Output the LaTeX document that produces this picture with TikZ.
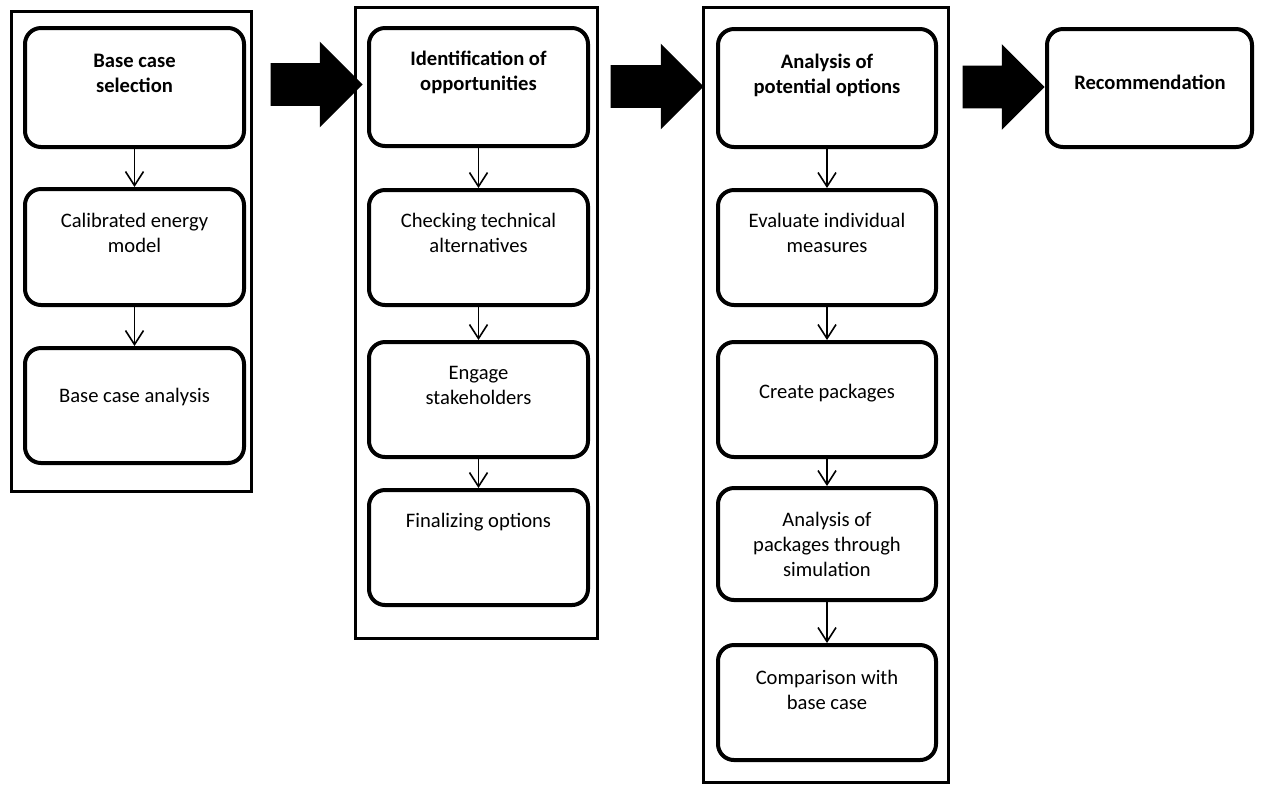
\documentclass[tikz,border=0pt]{standalone}
\usepackage{fontspec}
\setmainfont{Carlito}
\usetikzlibrary{arrows.meta,shapes.arrows}

\begin{document}
\begin{tikzpicture}[x=0.5pt,y=-0.5pt,
  colframe/.style={draw=black, line width=1.5pt, inner sep=0pt},
  stepbox/.style={draw=black, fill=white, line width=2pt, rounded corners=8pt,
    minimum width=109.5pt, minimum height=57.5pt, inner sep=0pt},
  steptext/.style={align=center, font=\fontsize{10.3}{12.5}\selectfont, text=black, inner sep=0pt},
  steptitle/.style={steptext, font=\fontsize{10.3}{12.5}\selectfont\bfseries},
  flow/.style={draw=black, line width=0.8pt,
    -{Straight Barb[length=7pt,width=9pt,line width=0.8pt]}},
  bigarrow/.style={single arrow, fill=black, draw=none, inner sep=0pt,
    inner ysep=10.5pt, minimum width=42.5pt, single arrow head extend=10.75pt,
    single arrow tip angle=90}
]
\useasboundingbox (0,0) rectangle (1264,784);

% column frames
\node[colframe, minimum width=120pt, minimum height=240pt] (f1) at (131,251) {};
\node[colframe, minimum width=121pt, minimum height=315.5pt] (f2) at (476,322.5) {};
\node[colframe, minimum width=122.5pt, minimum height=387.5pt] (f3) at (825.5,394.5) {};

% column 1: base case
\node[stepbox, minimum height=59.5pt] (b11) at (134.5,87.5) {};
\node[stepbox, minimum height=58pt] (b12) at (134.5,247) {};
\node[stepbox] (b13) at (134.5,405.5) {};
\node[steptitle] (t11) at (134.5,73) {Base case\\selection};
\node[steptext] (t12) at (134.5,232.5) {Calibrated energy\\model};
\node[steptext] (t13) at (134.5,397) {Base case analysis};

% column 2: opportunities
\node[stepbox, minimum height=59pt] (b21) at (478.5,87) {};
\node[stepbox] (b22) at (478.5,247.5) {};
\node[stepbox] (b23) at (478.5,399.5) {};
\node[stepbox] (b24) at (478.5,547.5) {};
\node[steptitle] (t21) at (478.5,72.5) {Identification of\\opportunities};
\node[steptext] (t22) at (478.5,232.5) {Checking technical\\alternatives};
\node[steptext] (t23) at (478.5,385) {Engage\\stakeholders};
\node[steptext] (t24) at (478.5,522) {Finalizing options};

% column 3: options
\node[stepbox, minimum width=109pt, minimum height=59pt] (b31) at (827,88) {};
\node[stepbox, minimum width=109pt] (b32) at (827,247.5) {};
\node[stepbox, minimum width=109pt] (b33) at (827,399.5) {};
\node[stepbox, minimum width=109pt, minimum height=56pt] (b34) at (827,544) {};
\node[stepbox, minimum width=109pt] (b35) at (827,702.5) {};
\node[steptitle] (t31) at (827,75) {Analysis of\\potential options};
\node[steptext] (t32) at (827,232.5) {Evaluate individual\\measures};
\node[steptext] (t33) at (827,393) {Create packages};
\node[steptext] (t34) at (827,544) {Analysis of\\packages through\\simulation};
\node[steptext] (t35) at (827,689.5) {Comparison with\\base case};

% final step
\node[stepbox, minimum width=102.5pt, minimum height=59pt] (rec) at (1149.5,88) {};
\node[steptitle] (trec) at (1150,82) {Recommendation};

% arrows inside the columns
\draw[flow] (b11) -- (b12);
\draw[flow] (b12) -- (b13);
\draw[flow] (b21) -- (b22);
\draw[flow] (b22) -- (b23);
\draw[flow] (b23) -- (b24);
\draw[flow] (b31) -- (b32);
\draw[flow] (b32) -- (b33);
\draw[flow] (b33) -- (b34);
\draw[flow] (b34) -- (b35);

% block arrows between the columns
\node[bigarrow, minimum height=46pt] (a1) at (306,84.5) {};
\node[bigarrow, minimum height=46.5pt] (a2) at (646.5,86.5) {};
\node[bigarrow, minimum height=41pt] (a3) at (993,87) {};
\end{tikzpicture}
\end{document}
